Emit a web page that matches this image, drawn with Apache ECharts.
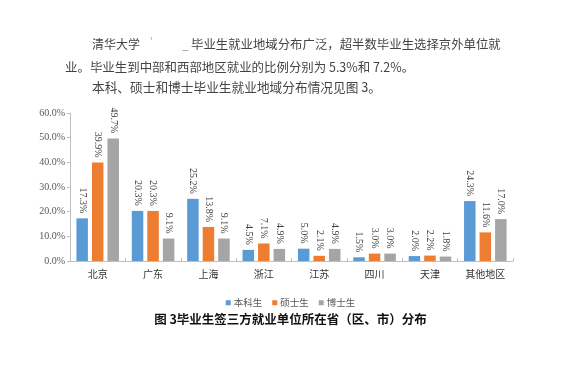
<!DOCTYPE html>
<html>
<head>
<meta charset="utf-8">
<script src="https://cdn.jsdelivr.net/npm/echarts@6/dist/echarts.min.js"></script>
<style>
html,body{margin:0;padding:0;background:#fff;}
#chart{width:581px;height:369px;}
</style>
</head>
<body>
<div id="chart"></div>
<script>
const categories = ['北京', '广东', '上海', '浙江', '江苏', '四川', '天津', '其他地区'];
const seriesNames = ['本科生', '硕士生', '博士生'];
const bachelor = [17.3, 20.3, 25.2, 4.5, 5.0, 1.5, 2.0, 24.3];
const master = [39.9, 20.3, 13.8, 7.1, 2.1, 3.0, 2.2, 11.6];
const doctor = [49.7, 9.1, 9.1, 4.9, 4.9, 3.0, 1.8, 17.0];
const colors = ['#5B9BD5', '#ED7D31', '#A5A5A5'];
const yTicks = { min: 0, max: 60, interval: 10 };

const paraLines = [
  '清华大学',
  '毕业生就业地域分布广泛，超半数毕业生选择京外单位就',
  '业。毕业生到中部和西部地区就业的比例分别为 5.3%和 7.2%。',
  '本科、硕士和博士毕业生就业地域分布情况见图 3。'
];
const caption = '图 3毕业生签三方就业单位所在省（区、市）分布';

const chart = echarts.init(document.getElementById('chart'), null, { renderer: 'canvas' });

const bodyFont = '"Noto Sans CJK SC", sans-serif';
const serif = '"Liberation Serif", "Noto Sans CJK SC", serif';

function mkSeries(name, data, color) {
  return {
    name: name,
    type: 'bar',
    data: data,
    barWidth: 11.5,
    barGap: '35%',
    itemStyle: { color: color },
    label: {
      show: true,
      position: 'top',
      distance: 5,
      rotate: -90,
      align: 'right',
      verticalAlign: 'middle',
      formatter: p => p.value.toFixed(1) + '%',
      fontFamily: serif,
      fontSize: 10,
      color: '#404040'
    }
  };
}

const option = {
  backgroundColor: '#ffffff',
  animation: false,
  grid: { left: 70, right: 68, top: 113, bottom: 108 },
  legend: {
    data: seriesNames,
    left: 'center',
    top: 293,
    itemWidth: 5,
    itemHeight: 5,
    itemGap: 10,
    icon: 'rect',
    textStyle: { fontFamily: bodyFont, fontSize: 9.5, color: '#595959', padding: [0, 0, 0, -2] }
  },
  xAxis: {
    type: 'category',
    data: categories,
    axisLine: { show: true, lineStyle: { color: '#BFBFBF', width: 1 } },
    axisTick: { show: true, inside: true, length: 3, lineStyle: { color: '#BFBFBF' } },
    axisLabel: { fontFamily: '"Noto Sans CJK SC", serif', fontSize: 10, color: '#333', margin: 8 },
    splitLine: { show: false }
  },
  yAxis: {
    type: 'value',
    min: yTicks.min,
    max: yTicks.max,
    interval: yTicks.interval,
    axisLine: { show: true, lineStyle: { color: '#BFBFBF', width: 1 } },
    axisTick: { show: true, length: 3, lineStyle: { color: '#BFBFBF' } },
    axisLabel: { formatter: v => v.toFixed(1) + '%', fontFamily: serif, fontSize: 10, color: '#595959', margin: 5 },
    splitLine: { show: false }
  },
  series: [
    mkSeries(seriesNames[0], bachelor, colors[0]),
    mkSeries(seriesNames[1], master, colors[1]),
    mkSeries(seriesNames[2], doctor, colors[2])
  ],
  graphic: [
    { type: 'text', left: 92, top: 38, style: { text: paraLines[0], font: '12px ' + bodyFont, fill: '#444' } },
    { type: 'text', left: 150, top: 36, style: { text: '\'', font: '10px ' + bodyFont, fill: '#aaa' } },
    { type: 'text', left: 182, top: 38, style: { text: '_', font: '12px ' + bodyFont, fill: '#999' } },
    { type: 'text', left: 191, top: 38, style: { text: paraLines[1], font: '12.4px ' + bodyFont, fill: '#444' } },
    { type: 'text', left: 65, top: 61, style: { text: paraLines[2], font: '12.45px ' + bodyFont, fill: '#444' } },
    { type: 'text', left: 92, top: 81, style: { text: paraLines[3], font: '12.7px ' + bodyFont, fill: '#444' } },
    { type: 'text', left: 'center', top: 313, style: { text: caption, font: 'bold 12.5px ' + bodyFont, fill: '#111' } }
  ]
};

chart.setOption(option);
</script>
</body>
</html>
